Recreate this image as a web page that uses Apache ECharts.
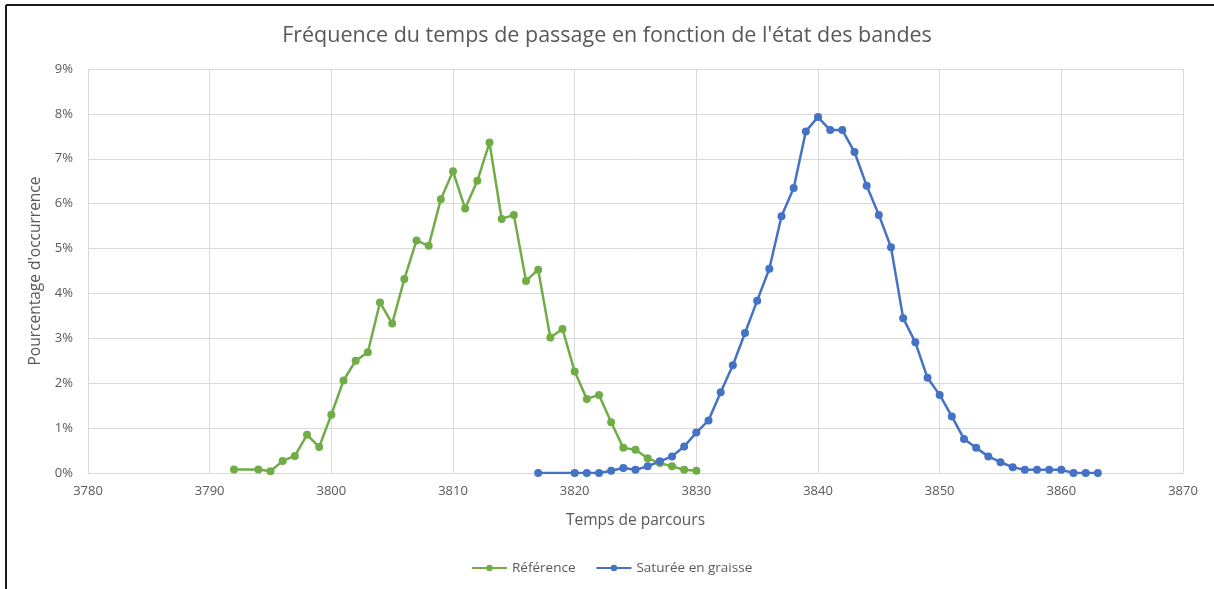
<!DOCTYPE html>
<html>
<head>
<meta charset="utf-8">
<script src="https://cdn.jsdelivr.net/npm/echarts@6/dist/echarts.min.js"></script>
<style>
html,body{margin:0;padding:0;background:#fff;}
#chart{width:1214px;height:589px;}
</style>
</head>
<body>
<div id="chart"></div>
<script>
const titleText = "Fréquence du temps de passage en fonction de l'état des bandes";
const xAxisName = "Temps de parcours";
const yAxisName = "Pourcentage d'occurrence";
const seriesNames = ["Référence", "Saturée en graisse"];

const refX = [3792,3794,3795,3796,3797,3798,3799,3800,3801,3802,3803,3804,3805,3806,3807,3808,3809,3810,3811,3812,3813,3814,3815,3816,3817,3818,3819,3820,3821,3822,3823,3824,3825,3826,3827,3828,3829,3830];
const refY = [0.08,0.08,0.04,0.27,0.38,0.85,0.58,1.30,2.06,2.50,2.69,3.80,3.33,4.32,5.18,5.06,6.10,6.72,5.89,6.51,7.36,5.66,5.75,4.28,4.53,3.02,3.21,2.26,1.65,1.74,1.13,0.56,0.52,0.33,0.22,0.15,0.07,0.05];

const satX = [3817,3820,3821,3822,3823,3824,3825,3826,3827,3828,3829,3830,3831,3832,3833,3834,3835,3836,3837,3838,3839,3840,3841,3842,3843,3844,3845,3846,3847,3848,3849,3850,3851,3852,3853,3854,3855,3856,3857,3858,3859,3860,3861,3862,3863];
const satY = [0,0,0,0,0.05,0.11,0.07,0.15,0.26,0.37,0.59,0.90,1.17,1.80,2.40,3.12,3.84,4.55,5.72,6.35,7.61,7.93,7.64,7.64,7.15,6.40,5.75,5.03,3.45,2.91,2.12,1.74,1.26,0.76,0.56,0.37,0.24,0.13,0.07,0.07,0.07,0.07,0,0,0];

const xMin = 3780, xMax = 3870, xStep = 10;
const yMin = 0, yMax = 9, yStep = 1;

const colors = ['#70AD47', '#4472C4'];
const font = "'Open Sans', sans-serif";
const textColor = '#595959';

function pairs(xs, ys) { return xs.map((x, i) => [x, ys[i]]); }

const chart = echarts.init(document.getElementById('chart'));
chart.setOption({
  animation: false,
  backgroundColor: '#fff',
  title: {
    text: titleText,
    left: 'center',
    top: 20,
    textStyle: { fontFamily: font, fontSize: 21.5, fontWeight: 'normal', color: textColor }
  },
  grid: { left: 88, right: 31, top: 69, bottom: 116, containLabel: false },
  legend: {
    bottom: 9,
    left: 466,
    itemWidth: 35,
    itemHeight: 8,
    itemGap: 20,
    textStyle: { fontFamily: font, fontSize: 13.5, color: textColor },
    data: seriesNames
  },
  xAxis: {
    type: 'value',
    min: xMin, max: xMax, interval: xStep,
    name: xAxisName,
    nameLocation: 'middle',
    nameGap: 40,
    nameTextStyle: { fontFamily: font, fontSize: 15.5, color: textColor },
    axisLine: { show: true, lineStyle: { color: '#d9d9d9', width: 1 } },
    axisTick: { show: false },
    axisLabel: { fontFamily: font, fontSize: 13, color: textColor, margin: 12, formatter: v => String(v) },
    splitLine: { show: true, lineStyle: { color: '#d9d9d9', width: 1 } }
  },
  yAxis: {
    type: 'value',
    min: yMin, max: yMax, interval: yStep,
    name: yAxisName,
    nameLocation: 'middle',
    nameGap: 43,
    nameTextStyle: { fontFamily: font, fontSize: 15.5, color: textColor },
    axisLine: { show: false },
    axisTick: { show: false },
    axisLabel: { fontFamily: font, fontSize: 13, color: textColor, margin: 15, formatter: '{value}%' },
    splitLine: { show: true, lineStyle: { color: '#d9d9d9', width: 1 } }
  },
  series: [
    {
      name: seriesNames[0], type: 'line',
      data: pairs(refX, refY),
      symbol: 'circle', symbolSize: 8,
      lineStyle: { color: colors[0], width: 2.5 },
      itemStyle: { color: colors[0] }
    },
    {
      name: seriesNames[1], type: 'line',
      data: pairs(satX, satY),
      symbol: 'circle', symbolSize: 8,
      lineStyle: { color: colors[1], width: 2.5 },
      itemStyle: { color: colors[1] }
    }
  ],
  graphic: [
    { type: 'line', shape: { x1: 6, y1: 5, x2: 1214, y2: 5 }, style: { stroke: '#1a1a1a', lineWidth: 2 }, silent: true },
    { type: 'line', shape: { x1: 6, y1: 5, x2: 6, y2: 589 }, style: { stroke: '#1a1a1a', lineWidth: 2 }, silent: true }
  ]
});
</script>
</body>
</html>
